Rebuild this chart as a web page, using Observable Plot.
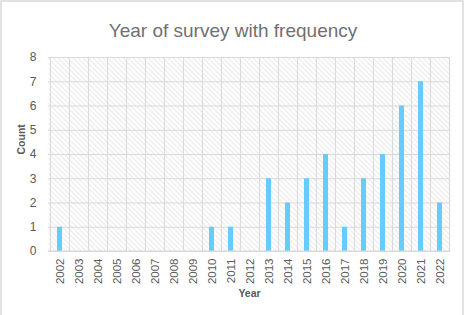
<!DOCTYPE html>
<html>
<head>
<meta charset="utf-8">
<script src="https://cdn.jsdelivr.net/npm/d3@7"></script>
<script src="https://cdn.jsdelivr.net/npm/@observablehq/plot@0.6"></script>
<style>
  body { margin: 0; background: #fff; }
  #chart svg { display: block; }
</style>
</head>
<body>
<div id="chart"></div>
<script>
const years = ["2002","2003","2004","2005","2006","2007","2008","2009","2010","2011","2012","2013","2014","2015","2016","2017","2018","2019","2020","2021","2022"];
const counts = [1,0,0,0,0,0,0,0,1,1,0,3,2,3,4,1,3,4,6,7,2];
const yTicks = [0,1,2,3,4,5,6,7,8];
const title = "Year of survey with frequency";

const data = years.map((y, i) => ({year: y, count: counts[i]}));

const plot = Plot.plot({
  width: 465,
  height: 315,
  marginLeft: 48,
  marginRight: 15,
  marginTop: 57,
  marginBottom: 64,
  style: {fontFamily: "'Liberation Sans', 'Noto Sans', sans-serif", fontSize: "12px", color: "#595959", background: "#fff"},
  x: {domain: years, padding: 0, label: null},
  y: {domain: [0, 8], ticks: yTicks, label: null},
  marks: [
    Plot.frame({fill: "url(#hatch)", stroke: null}),
    Plot.gridY(yTicks, {stroke: "#d9d9d9", strokeOpacity: 1, strokeWidth: 1}),
    Plot.tickX(years, {x: d => d, stroke: "#d9d9d9", strokeWidth: 1, dx: -9.55}),
    Plot.ruleX([years[years.length - 1]], {stroke: "#d9d9d9", dx: 9.55}),
    Plot.barY(data, {x: "year", y: "count", fill: "#66CCFF", insetLeft: 7, insetRight: 7}),
    Plot.axisY(yTicks, {tickSize: 0, tickPadding: 12, fontSize: 12, fill: "#595959", label: null}),
    Plot.axisX({tickSize: 0, tickRotate: -90, tickPadding: 7, fontSize: 11.5, fill: "#595959", label: null}),
    Plot.text([title], {frameAnchor: "top", dx: -16.5, dy: -34, fontSize: 19, fill: "#707070", text: d => d}),
    Plot.text(["Count"], {frameAnchor: "left", dx: -27, rotate: -90, fontSize: 10.5, fontWeight: "bold", fill: "#595959", text: d => d}),
    Plot.text(["Year"], {frameAnchor: "bottom", dy: 45, fontSize: 10.5, fontWeight: "bold", fill: "#595959", text: d => d})
  ]
});

const svg = d3.select(plot.tagName === "svg" ? plot : plot.querySelector("svg"));
const defs = svg.insert("defs", ":first-child");
const pat = defs.append("pattern")
  .attr("id", "hatch")
  .attr("patternUnits", "userSpaceOnUse")
  .attr("width", 5)
  .attr("height", 5);
pat.append("rect").attr("width", 5).attr("height", 5).attr("fill", "#fff");
pat.append("path").attr("d", "M-1,-1 L6,6 M-1,4 L1,6 M4,-1 L6,1")
  .attr("stroke", "#d4d4d4").attr("stroke-width", 0.8);

// bottom axis line
svg.append("line").attr("x1", 48).attr("x2", 450).attr("y1", 251).attr("y2", 251)
  .attr("stroke", "#d9d9d9").attr("stroke-width", 1);
// outer chart border
svg.append("rect").attr("x", 1).attr("y", 1).attr("width", 462).attr("height", 320)
  .attr("fill", "none").attr("stroke", "#d9d9d9").attr("stroke-width", 1.5);

document.getElementById("chart").appendChild(plot);
</script>
</body>
</html>
